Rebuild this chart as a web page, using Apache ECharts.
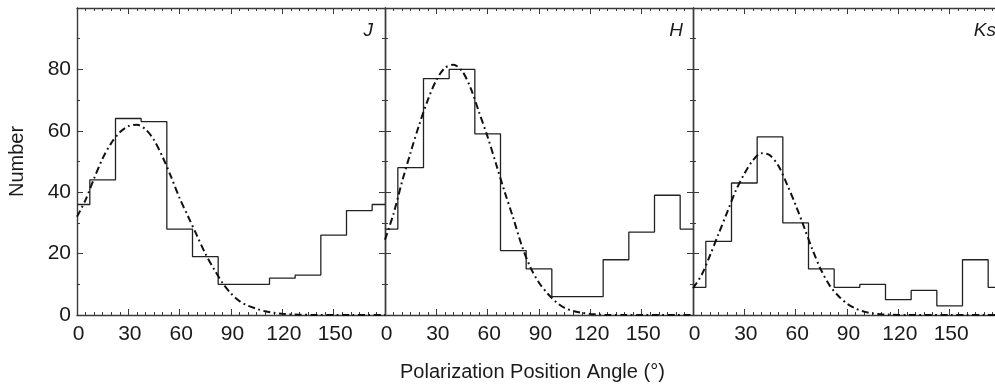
<!DOCTYPE html>
<html>
<head>
<meta charset="utf-8">
<script src="https://cdn.jsdelivr.net/npm/echarts@6/dist/echarts.min.js"></script>
<style>
html,body{margin:0;padding:0;background:#fff;overflow:hidden;width:995px;height:389px;}
#c{width:1010px;height:389px;}
</style>
</head>
<body>
<div id="c"></div>
<script>
// ---- data ----
var panelNames = ['J', 'H', 'Ks'];
var binCenters = [0, 15, 30, 45, 60, 75, 90, 105, 120, 135, 150, 165, 180];
var histJ  = [36, 44, 64, 63, 28, 19, 10, 10, 12, 13, 26, 34, 36];
var histH  = [28, 48, 77, 80, 59, 21, 15, 6, 6, 18, 27, 39, 28];
var histKs = [9, 24, 43, 58, 30, 15, 9, 10, 5, 8, 3, 18, 9];

var fitX   = [0, 5, 10, 15, 20, 25, 30, 35, 40, 45, 50, 55, 60, 65, 70, 75, 80, 85, 90, 95, 100, 105, 110, 115, 120, 125, 130, 140, 150, 160, 170, 180];
var fitJ   = [32, 37.5, 44.5, 51, 56, 59.5, 61.5, 62, 60.5, 57, 51.5, 45, 38, 32, 26, 20, 15, 10.5, 7, 4.5, 3, 2, 1.2, 0.7, 0.4, 0.2, 0.1, 0, 0, 0, 0, 0];
var fitH   = [24.5, 33, 43.5, 53, 62, 70, 76.5, 80.5, 81.5, 79.5, 74, 66, 58, 49, 40, 31.5, 22.5, 15.5, 10.5, 7, 4.2, 2.3, 1.3, 0.7, 0.35, 0.15, 0, 0, 0, 0, 0, 0];
var fitKs  = [8.7, 13, 19.5, 26.5, 33.5, 40.5, 46, 50.4, 52.7, 52, 48.5, 42.5, 35.8, 28.5, 21, 14.5, 9.5, 6.2, 3.7, 2.1, 1.1, 0.5, 0.25, 0.1, 0, 0, 0, 0, 0, 0, 0, 0];

var xTicks = [0, 30, 60, 90, 120, 150];
var yTicks = [0, 20, 40, 60, 80];
var xTitle = 'Polarization Position Angle (°)';
var yTitle = 'Number';

// ---- chart ----
var FONT = '"Liberation Sans", Arial, Helvetica, sans-serif';
var INK = '#1a1a1a';
var FRAME = '#3a3a3a';
var hists = [histJ, histH, histKs];
var fits = [fitJ, fitH, fitKs];
var lefts = [77, 385, 693];
var W = 308, TOP = 8, H = 307;
var labelRight = [373, 683, 996];

function pairs(xs, ys) { return xs.map(function (x, i) { return [x, ys[i]]; }); }

var grids = [], xAxes = [], yAxes = [], series = [], graphics = [];
for (var p = 0; p < 3; p++) {
  grids.push({ left: lefts[p], top: TOP, width: W, height: H, containLabel: false });
  var axLine = { show: true, onZero: false, lineStyle: { color: FRAME, width: 1.4 } };
  var xBase = {
    type: 'value', gridIndex: p, min: 0, max: 180, interval: 30,
    axisLine: axLine, splitLine: { show: false },
    axisTick: { show: true, inside: true, length: 6, lineStyle: { color: FRAME, width: 1 } },
    minorTick: { show: true, splitNumber: 6, length: 3, lineStyle: { color: FRAME, width: 1 } }
  };
  xAxes.push(Object.assign({}, xBase, {
    position: 'bottom',
    axisLabel: {
      show: true, showMaxLabel: false, margin: 9, fontSize: 21, fontFamily: FONT, color: INK,
      padding: [0, 0, 0, 3],
      formatter: function (v) { return xTicks.indexOf(v) >= 0 ? String(v) : ''; }
    }
  }));
  xAxes.push(Object.assign({}, xBase, { position: 'top', axisLabel: { show: false } }));
  var yBase = {
    type: 'value', gridIndex: p, min: 0, max: 100, interval: 20,
    axisLine: axLine, splitLine: { show: false },
    axisTick: { show: true, inside: true, length: 6, lineStyle: { color: FRAME, width: 1 } },
    minorTick: { show: true, splitNumber: 2, length: 3, lineStyle: { color: FRAME, width: 1 } }
  };
  yAxes.push(Object.assign({}, yBase, {
    position: 'left',
    name: p === 0 ? yTitle : '', nameLocation: 'middle', nameGap: 50, nameRotate: 90,
    nameTextStyle: { fontSize: 20, fontFamily: FONT, color: INK },
    axisLabel: {
      show: p === 0, showMaxLabel: false, margin: 6, fontSize: 21, fontFamily: FONT, color: INK,
      formatter: function (v) { return yTicks.indexOf(v) >= 0 ? String(v) : ''; }
    }
  }));
  yAxes.push(Object.assign({}, yBase, { position: 'right', axisLabel: { show: false } }));

  series.push({
    type: 'line', xAxisIndex: p * 2, yAxisIndex: p * 2, step: 'middle', symbol: 'none',
    data: pairs(binCenters, hists[p]), lineStyle: { color: '#222', width: 1.3 }, silent: true, z: 3
  });
  series.push({
    type: 'line', xAxisIndex: p * 2, yAxisIndex: p * 2, smooth: 0.3, symbol: 'none',
    data: pairs(fitX, fits[p]), lineStyle: { color: '#111', width: 2, type: [7, 3.5, 1.8, 3.5] }, silent: true, z: 4
  });
  graphics.push({
    type: 'text', x: labelRight[p], y: 21,
    style: { text: panelNames[p], font: 'italic 19px ' + FONT, fill: INK, align: 'right', verticalAlign: 'top' }
  });
}
graphics.push({
  type: 'text', x: 400, y: 362,
  style: { text: xTitle, font: '20px ' + FONT, fill: INK, align: 'left', verticalAlign: 'top' }
});

var chart = echarts.init(document.getElementById('c'), null, { renderer: 'canvas', width: 1010, height: 389 });
chart.setOption({
  animation: false,
  backgroundColor: '#fff',
  grid: grids, xAxis: xAxes, yAxis: yAxes, series: series, graphic: graphics
});
</script>
</body>
</html>
